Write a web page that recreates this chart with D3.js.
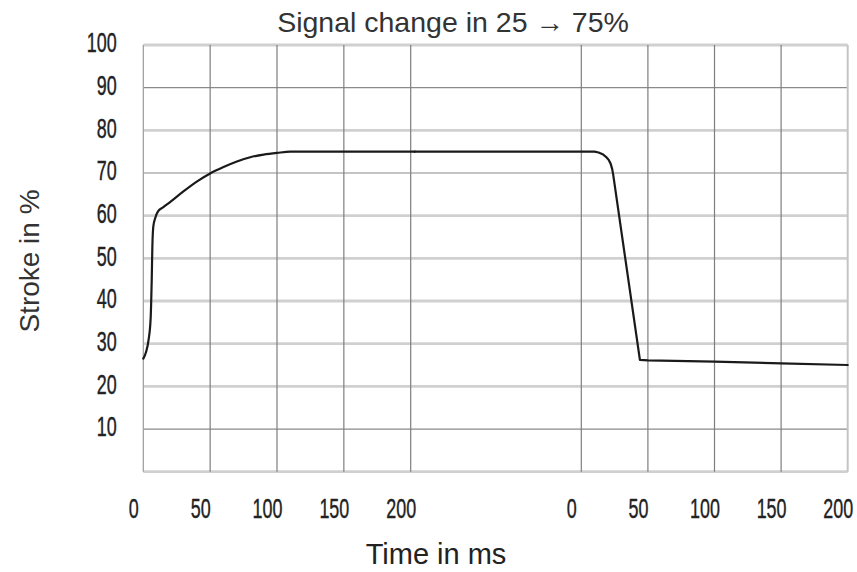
<!DOCTYPE html>
<html><head><meta charset="utf-8">
<script src="https://cdn.jsdelivr.net/npm/d3@7"></script>
<style>
html,body{margin:0;padding:0;background:#fff;}
svg text{font-family:"Liberation Sans",Arial,sans-serif;}
</style></head>
<body><svg id="c" width="857" height="572"></svg>
<script>
// ---- data ----
const xTicks = [0, 50, 100, 150, 200];
const yTicks = [10, 20, 30, 40, 50, 60, 70, 80, 90, 100];
// rising edge (time in ms after 25→75 command), first time axis
const riseTime  = [0, 2, 4, 5.5, 6.3, 6.8, 7.5, 9, 11, 15, 20, 30, 40, 50, 60, 70, 80, 90, 100, 110, 200];
const riseValue = [26.5, 28, 31, 36, 45, 53, 57.5, 59.5, 61, 62, 63.2, 65.7, 68, 69.9, 71.4, 72.7, 73.7, 74.3, 74.7, 75, 75];
// falling edge (time in ms after 75→25 command), second time axis
const fallTime  = [-125, 10, 13, 16, 18.5, 20.5, 22, 23.2, 24, 44, 50, 100, 150, 200];
const fallValue = [75, 75, 74.8, 74.4, 73.8, 73.1, 72.2, 70.9, 69.5, 26.2, 26.1, 25.8, 25.4, 25.0];

const title = "Signal change in 25 \u2192 75%";
const xLabel = "Time in ms";
const yLabel = "Stroke in %";

// ---- scales ----
const svg = d3.select("#c");
const xA = d3.scaleLinear().domain([0, 200]).range([143.3, 410.7]);
const xB = d3.scaleLinear().domain([0, 200]).range([581.3, 847.7]);
const y  = d3.scaleLinear().domain([0, 100]).range([471.7, 45]);

// ---- grid ----
const thin = new Set([10, 70, 90]);
const grid = svg.append("g");
grid.selectAll("line.h").data([0].concat(yTicks)).join("line")
  .attr("x1", xA(0)).attr("x2", xB(200))
  .attr("y1", d => y(d)).attr("y2", d => y(d))
  .attr("stroke", d => thin.has(d) ? "#8a8a8a" : "#d0d0d0")
  .attr("stroke-width", d => thin.has(d) ? 1.2 : 2.8);
const vA = xTicks.map(t => ({x: xA(t), t, seg: 0}));
const vB = xTicks.map(t => ({x: xB(t), t, seg: 1}));
grid.selectAll("line.v").data(vA.concat(vB)).join("line")
  .attr("x1", d => d.x).attr("x2", d => d.x)
  .attr("y1", y(0)).attr("y2", y(100))
  .attr("stroke", d => (d.seg === 1 && d.t === 200) ? "#c4c4c4" : (d.seg===0 && d.t===0 ? "#9a9a9a" : "#7e7e7e"))
  .attr("stroke-width", d => (d.seg === 1 && d.t === 200) ? 2 : 1.2);

// ---- axes ----
function styleAxis(g) {
  g.select(".domain").remove();
  g.selectAll(".tick line").remove();
}
const yAxis = svg.append("g").attr("transform", `translate(${xA(0)},0)`)
  .call(d3.axisLeft(y).tickValues(yTicks).tickFormat(d3.format("d")))
  .call(styleAxis);
yAxis.selectAll("text")
  .attr("x", null).attr("dy", "0.28em")
  .attr("text-anchor", "end")
  .attr("transform", "translate(-26.6,-1) scale(0.64,1)")
  .style("font-family", '"Liberation Sans",Arial,sans-serif')
  .style("font-size", "28px").attr("fill", "#222")
  .attr("stroke", "#222").attr("stroke-width", 0.4);

[xA, xB].forEach(sc => {
  const g = svg.append("g").attr("transform", `translate(0,${y(0)})`)
    .call(d3.axisBottom(sc).tickValues(xTicks).tickFormat(d3.format("d")))
    .call(styleAxis);
  g.selectAll("text")
    .attr("y", null).attr("dy", null)
    .attr("text-anchor", "middle")
    .attr("transform", "translate(-10,46.5) scale(0.64,1)")
    .style("font-family", '"Liberation Sans",Arial,sans-serif')
    .style("font-size", "28px").attr("fill", "#222")
    .attr("stroke", "#222").attr("stroke-width", 0.4);
});

// ---- curve ----
const risePts = riseTime.map((t, i) => [xA(t), y(riseValue[i])])
  .concat([[xB(fallTime[0]), y(fallValue[0])]]);
const fallPts = fallTime.map((t, i) => [xB(t), y(fallValue[i])]);
const lineStyle = p => p.attr("fill", "none").attr("stroke", "#1a1a1a")
  .attr("stroke-width", 2.2).attr("stroke-linejoin", "round").attr("stroke-linecap", "round");
svg.append("path").datum(risePts)
  .attr("d", d3.line().curve(d3.curveMonotoneX)).call(lineStyle);
svg.append("path").datum(fallPts)
  .attr("d", d3.line()).call(lineStyle);

// ---- titles ----
svg.append("text").attr("x", 453).attr("y", 31.5).attr("text-anchor", "middle")
  .style("font-size", "28.5px").attr("fill", "#333").text(title);
svg.append("text").attr("x", 436).attr("y", 564).attr("text-anchor", "middle")
  .style("font-size", "29px").attr("fill", "#222").text(xLabel);
svg.append("text").attr("transform", "translate(39,261) rotate(-90)").attr("text-anchor", "middle")
  .style("font-size", "28px").attr("fill", "#333").text(yLabel);
</script></body></html>
